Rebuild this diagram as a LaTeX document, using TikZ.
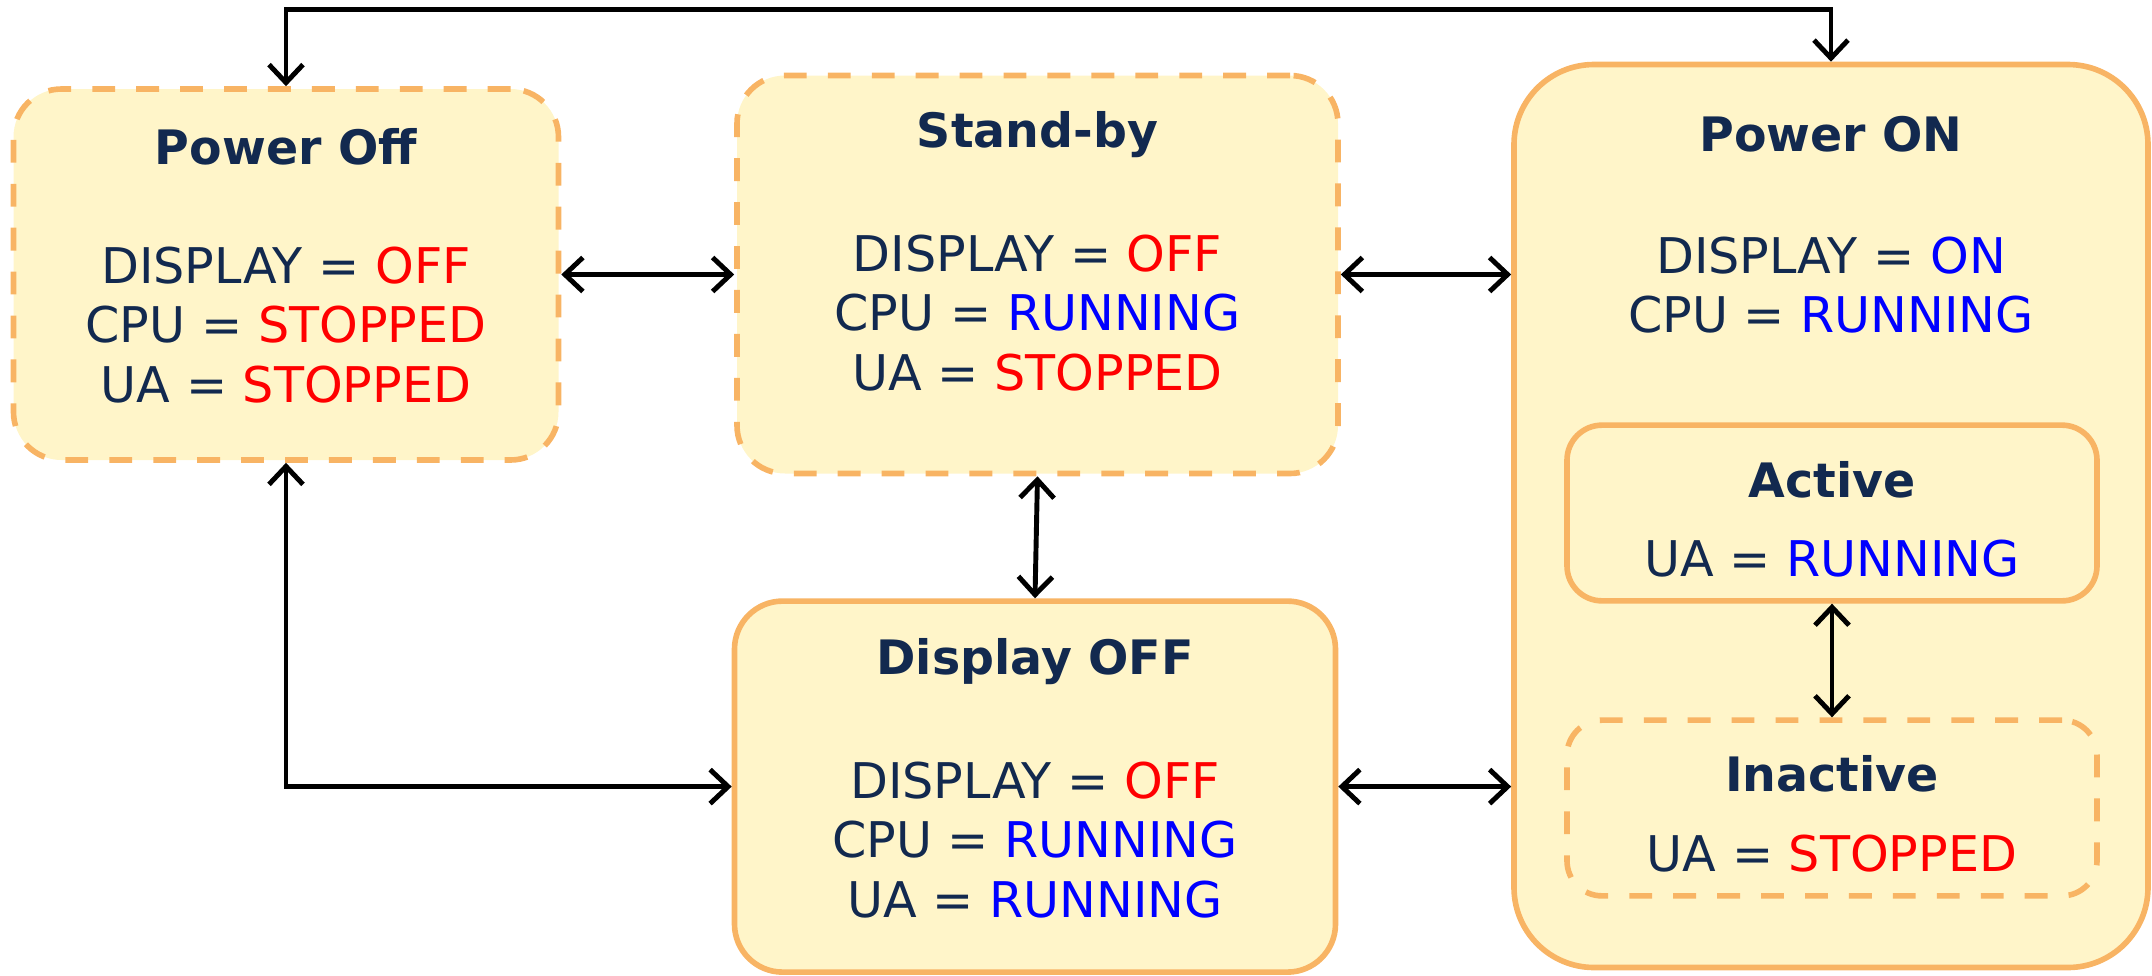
\documentclass[tikz,border=0pt]{standalone}
\usepackage{fontspec}
\setmainfont{DejaVu Sans}
\usetikzlibrary{arrows.meta}

\definecolor{statefill}{HTML}{FFF5C9}
\definecolor{stateline}{HTML}{F8B464}
\definecolor{navy}{HTML}{12294F}
\definecolor{offred}{HTML}{FF0000}
\definecolor{onblue}{HTML}{0000FF}

\newcommand{\stopped}[1]{\textcolor{offred}{#1}}
\newcommand{\running}[1]{\textcolor{onblue}{#1}}

\begin{document}
\begin{tikzpicture}[
		state/.style={draw=stateline, fill=statefill, line width=1.6pt, rounded corners=0.48cm, inner sep=0pt},
		dashbox/.style={dash pattern=on 6.5pt off 6pt},
		title/.style={text=navy, font=\fontsize{13.5}{16}\selectfont\bfseries},
		body/.style={text=navy, align=center, font=\fontsize{14}{17}\selectfont},
		biarrow/.style={line width=1.4pt, {Straight Barb[length=1.8mm,width=3.4mm]}-{Straight Barb[length=1.8mm,width=3.4mm]}},
	]
	\useasboundingbox (0,0) rectangle (21.52,-9.75);

	\node[state, dashbox, minimum width=5.45cm, minimum height=3.71cm] (off) at (2.86,-2.745) {};
	\node[title] (offT) at (2.86,-1.47) {Power Off};
	\node[body] (offB) at (2.86,-3.25) {DISPLAY = \stopped{OFF}\\ CPU = \stopped{STOPPED}\\ UA = \stopped{STOPPED}};

	\node[state, dashbox, minimum width=6.01cm, minimum height=3.98cm] (standby) at (10.375,-2.745) {};
	\node[title] (standbyT) at (10.375,-1.345) {Stand-by};
	\node[body] (standbyB) at (10.375,-3.13) {DISPLAY = \stopped{OFF}\\ CPU = \running{RUNNING}\\ UA = \stopped{STOPPED}};

	\node[state, minimum width=6.01cm, minimum height=3.71cm] (dispoff) at (10.35,-7.866) {};
	\node[title] (dispoffT) at (10.35,-6.615) {Display OFF};
	\node[body] (dispoffB) at (10.35,-8.40) {DISPLAY = \stopped{OFF}\\ CPU = \running{RUNNING}\\ UA = \running{RUNNING}};

	\node[state, rounded corners=0.8cm, minimum width=6.34cm, minimum height=9.03cm] (on) at (18.31,-5.16) {};
	\node[title] (onT) at (18.31,-1.345) {Power ON};
	\node[body] (onB) at (18.31,-2.85) {DISPLAY = \running{ON}\\ CPU = \running{RUNNING}};

	\node[state, rounded corners=0.35cm, minimum width=5.30cm, minimum height=1.757cm] (active) at (18.32,-5.13) {};
	\node[title] (activeT) at (18.32,-4.80) {Active};
	\node[body] (activeB) at (18.32,-5.59) {UA = \running{RUNNING}};

	\node[state, dashbox, rounded corners=0.35cm, minimum width=5.30cm, minimum height=1.757cm] (inactive) at (18.32,-8.08) {};
	\node[title] (inactiveT) at (18.32,-7.74) {Inactive};
	\node[body] (inactiveB) at (18.32,-8.54) {UA = \stopped{STOPPED}};

	\coordinate (topbar) at (10,-0.096);

	\draw[biarrow] (off.north) |- (topbar) -| (on.north);
	\draw[biarrow] (off.east) -- (standby.west);
	\draw[biarrow] (standby.east) -- (standby.east -| on.west);
	\draw[biarrow] (standby.south) -- (dispoff.north);
	\draw[biarrow] (off.south) |- (dispoff.west);
	\draw[biarrow] (dispoff.east) -- (dispoff.east -| on.west);
	\draw[biarrow] (active.south) -- (inactive.north);
\end{tikzpicture}
\end{document}
